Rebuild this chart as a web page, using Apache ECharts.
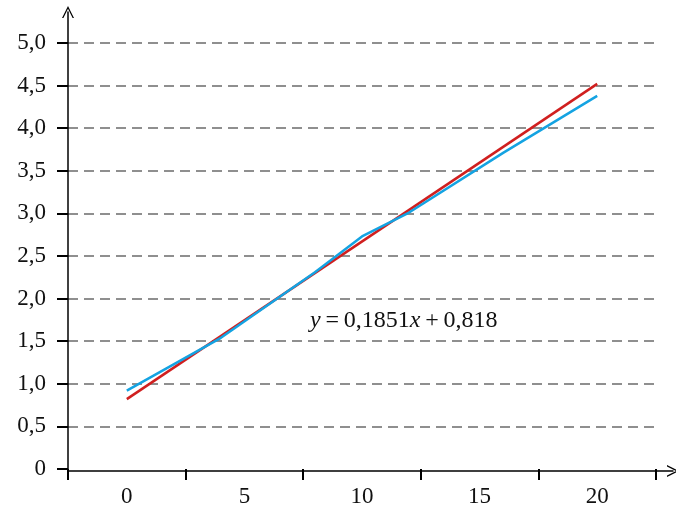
<!DOCTYPE html>
<html>
<head>
<meta charset="utf-8">
<script src="https://cdn.jsdelivr.net/npm/echarts@6/dist/echarts.min.js"></script>
<style>
html,body{margin:0;padding:0;background:#fff;}
#chart{width:676px;height:508px;}
</style>
</head>
<body>
<div id="chart"></div>
<script>
// ---- data ----
var xLabelValues = [0, 5, 10, 15, 20];
var xTickValues = [-2.5, 2.5, 7.5, 12.5, 17.5, 22.5];
var yTickValues = [0, 0.5, 1.0, 1.5, 2.0, 2.5, 3.0, 3.5, 4.0, 4.5, 5.0];
var yTickLabels = ['0', '0,5', '1,0', '1,5', '2,0', '2,5', '3,0', '3,5', '4,0', '4,5', '5,0'];
var measuredX = [0, 4, 8, 10, 12, 16, 20];
var measuredY = [0.92, 1.54, 2.31, 2.73, 3.01, 3.71, 4.38];
var trendX = [0, 20];
var trendY = [0.82, 4.52];
var equationText = ['y', '\u2009=\u20090,1851', 'x', '\u2009+\u20090,818'];

var chevron = 'path://M0,12 L6,0 L12,12 L10.6,12 L6,2.8 L1.4,12 Z';
var FONT = '"Liberation Serif", "DejaVu Serif", serif';

function pairs(xs, ys) { return xs.map(function (x, i) { return [x, ys[i]]; }); }

var splitColors = yTickValues.map(function (v) { return v === 0 ? 'rgba(0,0,0,0)' : '#8f8f8f'; });

var chart = echarts.init(document.getElementById('chart'), null, {renderer: 'canvas'});
var option = {
  animation: false,
  backgroundColor: '#ffffff',
  grid: [
    {left: 68, right: 20, top: 43, bottom: 37},
    {left: 68, right: 3, top: 12, bottom: 37}
  ],
  xAxis: [
    {
      type: 'value', gridIndex: 0, min: -2.5, max: 22.5, interval: 5,
      axisLine: {show: false, onZero: false},
      axisTick: {show: true, inside: false, length: 11, customValues: xTickValues, lineStyle: {color: '#000', width: 2}},
      axisLabel: {show: true, customValues: xLabelValues, margin: 16, color: '#111', fontFamily: FONT, fontSize: 23},
      splitLine: {show: false}
    },
    {
      type: 'value', gridIndex: 1, min: 0, max: 1,
      axisLine: {show: true, onZero: false, symbol: ['none', chevron], symbolSize: [14, 12], lineStyle: {color: '#000', width: 1.5}},
      axisTick: {show: false}, axisLabel: {show: false}, splitLine: {show: false}
    }
  ],
  yAxis: [
    {
      type: 'value', gridIndex: 0, min: 0, max: 5, interval: 0.5,
      axisLine: {show: false, onZero: false},
      axisTick: {show: true, inside: false, length: 11, lineStyle: {color: '#000', width: 2}},
      axisLabel: {
        show: true, margin: 22, color: '#111', fontFamily: FONT, fontSize: 23,
        formatter: function (v) {
          var i = yTickValues.findIndex(function (t) { return Math.abs(t - v) < 1e-6; });
          return i >= 0 ? yTickLabels[i] : '';
        }
      },
      splitLine: {show: true, lineStyle: {color: splitColors, width: 1.8, type: [10, 6]}}
    },
    {
      type: 'value', gridIndex: 1, min: 0, max: 1,
      axisLine: {show: true, onZero: false, symbol: ['none', chevron], symbolSize: [14, 12], lineStyle: {color: '#000', width: 1.5}},
      axisTick: {show: false}, axisLabel: {show: false}, splitLine: {show: false}
    }
  ],
  series: [
    {
      type: 'line', xAxisIndex: 0, yAxisIndex: 0,
      data: pairs(trendX, trendY), showSymbol: false, symbol: 'none',
      lineStyle: {color: '#d01f1f', width: 2.5}, z: 3
    },
    {
      type: 'line', xAxisIndex: 0, yAxisIndex: 0,
      data: pairs(measuredX, measuredY), showSymbol: false, symbol: 'none',
      lineStyle: {color: '#14a3e2', width: 2.5}, z: 4
    }
  ],
  graphic: [
    {
      type: 'text', left: 310, top: 309, z: 10,
      style: {
        text: '{i|' + equationText[0] + '}{n|' + equationText[1] + '}{i|' + equationText[2] + '}{n|' + equationText[3] + '}',
        rich: {
          i: {fontFamily: FONT, fontStyle: 'italic', fontSize: 24, fill: '#111'},
          n: {fontFamily: FONT, fontSize: 24, fill: '#111'}
        }
      }
    }
  ]
};
chart.setOption(option);
</script>
</body>
</html>
